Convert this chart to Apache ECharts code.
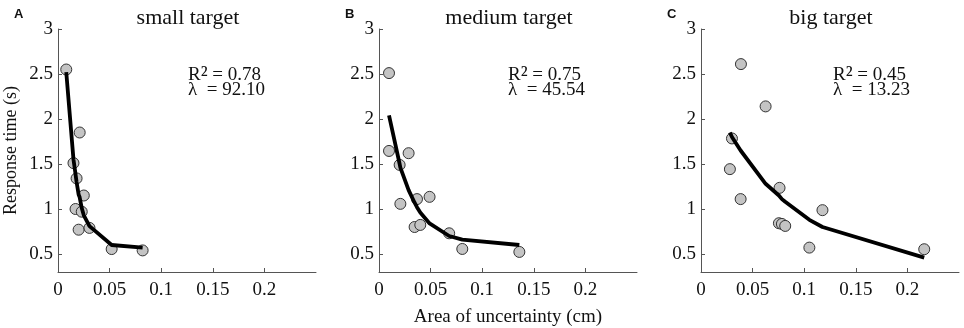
<!DOCTYPE html>
<html><head><meta charset="utf-8">
<script src="https://cdn.jsdelivr.net/npm/echarts@6/dist/echarts.min.js"></script>
<style>html,body{margin:0;padding:0;background:#fff}#c{width:964px;height:328px}</style>
</head><body><div id="c"></div>
<script>
// ---- data ----
const panelTitles = ['small target', 'medium target', 'big target'];
const panelLetters = ['A', 'B', 'C'];
const r2Values = ['0.78', '0.75', '0.45'];
const lambdaValues = ['92.10', '45.54', '13.23'];
const xTicks = [0, 0.05, 0.1, 0.15, 0.2];
const yTicks = [0.5, 1, 1.5, 2, 2.5, 3];

// observed points [area, response time]
const smallPts = [[0.008,2.55],[0.021,1.85],[0.015,1.51],[0.018,1.34],[0.025,1.15],[0.017,1.00],[0.023,0.97],[0.020,0.77],[0.0305,0.79],[0.052,0.555],[0.082,0.54]];
const mediumPts = [[0.0097,2.51],[0.0097,1.645],[0.0287,1.62],[0.020,1.49],[0.0368,1.11],[0.049,1.135],[0.0207,1.057],[0.0345,0.80],[0.040,0.823],[0.068,0.73],[0.0807,0.556],[0.136,0.523]];
const bigPts = [[0.0387,2.61],[0.0626,2.14],[0.030,1.784],[0.028,1.443],[0.0384,1.11],[0.0761,1.235],[0.1177,0.987],[0.0755,0.842],[0.0784,0.834],[0.0816,0.812],[0.105,0.571],[0.2163,0.553]];

// fitted curves
const smallFit = [[0.008,2.52],[0.015,1.55],[0.0167,1.41],[0.018,1.30],[0.020,1.16],[0.021,1.13],[0.023,1.01],[0.025,0.93],[0.0305,0.81],[0.052,0.60],[0.082,0.57]];
const mediumFit = [[0.0097,2.04],[0.020,1.50],[0.0207,1.46],[0.0287,1.21],[0.0345,1.07],[0.0368,1.02],[0.040,0.96],[0.049,0.84],[0.068,0.70],[0.0807,0.66],[0.136,0.60]];
const bigFit = [[0.028,1.85],[0.030,1.80],[0.0384,1.65],[0.0387,1.64],[0.0626,1.28],[0.0755,1.15],[0.0761,1.14],[0.0784,1.11],[0.0816,1.08],[0.105,0.88],[0.1177,0.80],[0.2163,0.46]];

const points = [smallPts, mediumPts, bigPts];
const fits = [smallFit, mediumFit, bigFit];

// ---- layout ----
const gridLefts = [58, 379, 701];
const gridWidth = 258;
const serif = '"Liberation Serif", "Times New Roman", serif';
const axisColor = '#555';

const grids = [], xAxes = [], yAxes = [], series = [], titles = [];
for (let i = 0; i < 3; i++) {
  grids.push({left: gridLefts[i], top: 29, width: gridWidth, bottom: 56, containLabel: false, outerBoundsMode: 'none'});
  xAxes.push({
    type: 'value', gridIndex: i, min: 0, max: 0.25,
    axisLine: {show: true, lineStyle: {color: axisColor, width: 1}},
    axisTick: {show: true, inside: true, length: 4, customValues: xTicks, lineStyle: {color: axisColor}},
    axisLabel: {customValues: xTicks, color: '#111', fontFamily: serif, fontSize: 19, margin: 9,
      formatter: v => String(v)},
    splitLine: {show: false},
    name: i === 1 ? 'Area of uncertainty (cm)' : '',
    nameLocation: 'middle', nameGap: 36,
    nameTextStyle: {color: '#111', fontFamily: serif, fontSize: 19}
  });
  yAxes.push({
    type: 'value', gridIndex: i, min: 0.3, max: 3,
    axisLine: {show: true, lineStyle: {color: axisColor, width: 1}},
    axisTick: {show: true, inside: true, length: 4, customValues: yTicks, lineStyle: {color: axisColor}},
    axisLabel: {customValues: yTicks, color: '#111', fontFamily: serif, fontSize: 19, margin: 5,
      formatter: v => String(v)},
    splitLine: {show: false},
    name: i === 0 ? 'Response time (s)' : '',
    nameLocation: 'middle', nameGap: 38, nameRotate: 90,
    nameTextStyle: {color: '#111', fontFamily: serif, fontSize: 18}
  });
  series.push({
    type: 'scatter', xAxisIndex: i, yAxisIndex: i, data: points[i],
    symbol: 'circle', symbolSize: 11, z: 2,
    itemStyle: {color: '#c4c4c4', borderColor: '#333', borderWidth: 1, opacity: 1}
  });
  series.push({
    type: 'line', xAxisIndex: i, yAxisIndex: i, data: fits[i],
    showSymbol: false, symbol: 'none', smooth: false, z: 3,
    lineStyle: {color: '#000', width: 3.8}
  });
  titles.push({
    text: panelTitles[i], left: gridLefts[i] + gridWidth / 2 - 4, top: 2, textAlign: 'center',
    textStyle: {fontFamily: serif, fontSize: 22, fontWeight: 'normal', color: '#111'}
  });
  titles.push({
    text: panelLetters[i], left: [9, 340, 662][i], top: 3,
    textStyle: {fontFamily: '"Liberation Sans", Arial, sans-serif', fontSize: 13, fontWeight: 'bold', color: '#111'}
  });
  titles.push({
    text: '{a|R}{s|²}{a| = ' + r2Values[i] + '}\n{a|λ  = ' + lambdaValues[i] + '}',
    left: [183, 503, 828][i], top: 63,
    textStyle: {
      fontFamily: serif, fontSize: 19, fontWeight: 'normal', color: '#111', lineHeight: 15,
      rich: {
        a: {fontFamily: serif, fontSize: 19, color: '#111', lineHeight: 15},
        s: {fontFamily: serif, fontSize: 23, color: '#111', lineHeight: 15}
      }
    }
  });
}

const chart = echarts.init(document.getElementById('c'), null, {renderer: 'canvas'});
chart.setOption({
  animation: false,
  backgroundColor: '#fff',
  title: titles,
  grid: grids,
  xAxis: xAxes,
  yAxis: yAxes,
  series: series
});
</script>
</body></html>
